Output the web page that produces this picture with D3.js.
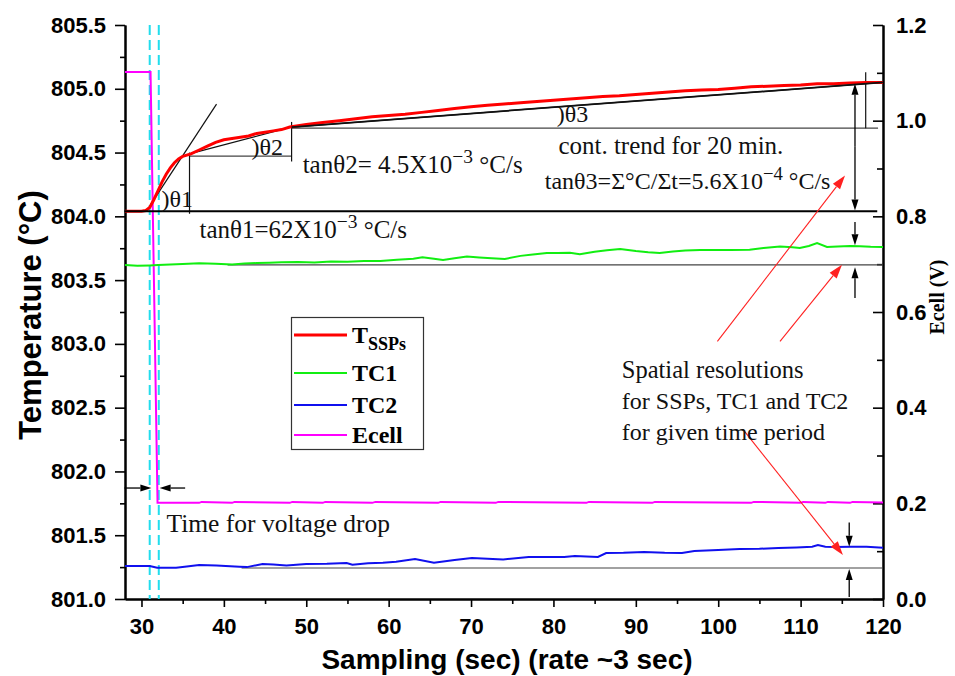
<!DOCTYPE html>
<html><head><meta charset="utf-8">
<script src="https://cdn.jsdelivr.net/npm/d3@7"></script>
<style>body{margin:0;background:#fff} svg{display:block}</style>
</head><body>
<svg id="c" width="955" height="676"></svg>
<script>
// ---------- data ----------
const xTicks = [30, 40, 50, 60, 70, 80, 90, 100, 110, 120];
const leftTicks = [801.0, 801.5, 802.0, 802.5, 803.0, 803.5, 804.0, 804.5, 805.0, 805.5];
const rightTicks = [0.0, 0.2, 0.4, 0.6, 0.8, 1.0, 1.2];

const tssX = [28,29,30,30.5,31,31.5,32,32.5,33,33.5,34,34.5,35,36,37,38,39,40,41,42,43,44,45,46,47,48,50,52,54,56,58,60,62,64,66,68,70,72,74,76,78,80,82,84,86,88,90,92,94,96,98,100,102,104,106,108,110,112,114,116,118,120];
const tssY = [804.04,804.04,804.04,804.045,804.07,804.13,804.2,804.27,804.33,804.38,804.42,804.45,804.47,804.49,804.52,804.55,804.58,804.60,804.61,804.62,804.63,804.65,804.66,804.67,804.68,804.70,804.72,804.735,804.75,804.765,804.78,804.79,804.80,804.815,804.83,804.845,804.86,804.87,804.88,804.89,804.90,804.91,804.92,804.93,804.94,804.945,804.955,804.965,804.975,804.985,804.99,804.995,805.005,805.015,805.02,805.025,805.03,805.04,805.04,805.045,805.05,805.05];

const tc1X = [28,29.5,31,32,33.5,35,37,39,41,42.5,44,45.5,47,49,51,53,55,57,59,61,63,64.1,65.5,66.6,68,69.5,71,72.5,74.1,76,77.5,79.2,80.5,82,83.2,85,86.5,88.1,90,91.5,92.9,94.5,96,97.8,99.5,101.5,103.8,105.5,107.5,109,109.9,111,112,113.2,114.5,116,117.2,118.5,120];
const tc1Y = [803.618,803.612,803.615,803.618,803.622,803.626,803.632,803.628,803.622,803.630,803.634,803.636,803.640,803.642,803.638,803.646,803.644,803.650,803.649,803.660,803.668,803.680,803.668,803.658,803.672,803.686,803.678,803.672,803.666,803.690,803.700,803.712,803.712,803.714,803.702,803.722,803.734,803.744,803.728,803.718,803.712,803.724,803.732,803.736,803.736,803.736,803.738,803.752,803.764,803.758,803.752,803.768,803.790,803.760,803.764,803.768,803.766,803.762,803.760];

const tc2X = [28,31,31.9,34.2,35.5,37,39.1,41.9,42.8,44.7,46,47.6,50,52.5,54.9,55.6,57.5,59.3,60.9,63.2,65.5,68,70.1,72,73.9,77,79,81.3,82.6,85.4,86.4,88.5,91,93.5,95.6,97.1,100,102.6,105,107.3,109.5,111.4,112.1,113,114.2,116,118,120];
const tc2Y = [801.259,801.259,801.245,801.245,801.255,801.266,801.262,801.252,801.250,801.274,801.270,801.262,801.274,801.276,801.282,801.268,801.280,801.284,801.292,801.313,801.285,801.306,801.321,801.316,801.310,801.329,801.330,801.329,801.337,801.330,801.360,801.362,801.368,801.362,801.360,801.376,801.384,801.392,801.394,801.400,801.404,801.410,801.423,801.410,801.408,801.410,801.410,801.402];

const ecellX = [28,31.1,31.95,37,37.3,41,41.3,48,48.3,52,52.3,58,58.4,66,66.3,73,73.3,84,84.3,92,92.3,104,104.3,110,110.3,113,113.3,116,116.3,120];
const ecellY = [1.102,1.102,0.201,0.201,0.203,0.201,0.203,0.201,0.203,0.201,0.203,0.201,0.203,0.201,0.203,0.201,0.203,0.201,0.203,0.201,0.203,0.201,0.203,0.201,0.203,0.201,0.203,0.201,0.203,0.202];

// drop markers (cyan dashed) in sampling units
const dropMarks = [31.0, 32.1];

// annotation geometry (data units: sampling, °C)
const thickRefLine = [[27.94, 804.04, 119.3, 804.04]];
const thinBlackLines = [
  [31.09, 804.09, 39.11, 804.88],   // tangent θ1
  [35.83, 804.50, 35.83, 804.02],   // vertical at θ2 start
  [35.83, 804.49, 48.22, 804.70],   // chord θ2
  [48.22, 804.74, 48.22, 804.43],   // vertical at θ3 start
  [48.22, 804.70, 120.0, 805.05],   // chord θ3
  [117.9, 805.13, 117.9, 804.69]    // vertical at right
];
const greyLines = [
  [35.83, 804.472, 48.22, 804.472],
  [48.22, 804.691, 119.4, 804.691],
  [40.45, 803.62, 120, 803.62],
  [42.15, 801.243, 120, 801.243]
];
const blackArrows = [ // tail x,y -> tip x,y
  [116.6, 804.55, 116.6, 805.04],
  [116.6, 804.55, 116.6, 804.045],
  [116.6, 803.955, 116.6, 803.774],
  [116.6, 803.36, 116.6, 803.60],
  [115.9, 801.60, 115.9, 801.41],
  [115.9, 801.016, 115.9, 801.235],
  [27.94, 801.87, 31.2, 801.87],
  [35.3, 801.87, 32.2, 801.87]
];
const redArrows = [
  [99.9, 803.02, 115.39, 804.32],
  [107.5, 803.02, 115.02, 803.62],
  [103.0, 802.33, 115.14, 801.345]
];

// ---------- scales ----------
const svg = d3.select('#c');
const x = d3.scaleLinear().domain([28, 120]).range([125, 883]);
const yL = d3.scaleLinear().domain([801, 805.5]).range([599, 25]);
const yR = d3.scaleLinear().domain([0, 1.2]).range([599, 25]);

const SANS = "'Liberation Sans', Arial, sans-serif";
const SERIF = "'Liberation Serif', 'Times New Roman', serif";

// ---------- axes ----------
function styleAxis(g) {
  g.select('.domain').attr('stroke', '#000').attr('stroke-width', 2);
  g.selectAll('.tick line').attr('stroke', '#000').attr('stroke-width', 1.6);
  g.selectAll('.tick text').attr('font-family', SANS).attr('font-weight', 'bold')
    .attr('font-size', 22).attr('fill', '#000');
}
const leftMinor = d3.range(801.25, 805.5, 0.5);
const rightMinor = d3.range(0.1, 1.2, 0.2);
const xMinor = d3.range(35, 120, 10);

svg.append('g').attr('transform', 'translate(125,0)')
  .call(d3.axisLeft(yL).tickValues(leftMinor).tickSize(5).tickSizeOuter(0).tickFormat(''))
  .call(styleAxis);
svg.append('g').attr('transform', 'translate(125,0)')
  .call(d3.axisLeft(yL).tickValues(leftTicks).tickSize(10).tickSizeOuter(0).tickPadding(9).tickFormat(d3.format('.1f')))
  .call(styleAxis);

svg.append('g').attr('transform', 'translate(883,0)')
  .call(d3.axisRight(yR).tickValues(rightMinor).tickSize(-6).tickSizeOuter(0).tickFormat(''))
  .call(styleAxis);
svg.append('g').attr('transform', 'translate(883,0)')
  .call(d3.axisRight(yR).tickValues(rightTicks).tickSize(-10).tickSizeOuter(0).tickPadding(13).tickFormat(d3.format('.1f')))
  .call(styleAxis);

svg.append('g').attr('transform', 'translate(0,599)')
  .call(d3.axisBottom(x).tickValues(xMinor).tickSize(5).tickSizeOuter(0).tickFormat(''))
  .call(styleAxis);
svg.append('g').attr('transform', 'translate(0,599)')
  .call(d3.axisBottom(x).tickValues(xTicks).tickSize(8).tickSizeOuter(0).tickPadding(11).tickFormat(d3.format('d')))
  .call(styleAxis);

// axis titles
svg.append('text').attr('x', 507).attr('y', 669).attr('text-anchor', 'middle')
  .attr('font-family', SANS).attr('font-weight', 'bold').attr('font-size', 28)
  .text('Sampling (sec) (rate ~3 sec)');
svg.append('text').attr('transform', 'translate(41,315) rotate(-90)').attr('text-anchor', 'middle')
  .attr('font-family', SANS).attr('font-weight', 'bold').attr('font-size', 31)
  .text('Temperature (°C)');
svg.append('text').attr('transform', 'translate(944,297) rotate(-90)').attr('text-anchor', 'middle')
  .attr('font-family', SERIF).attr('font-weight', 'bold').attr('font-size', 20)
  .text('Ecell (V)');

// ---------- cyan markers ----------
svg.selectAll('.drop').data(dropMarks).join('line')
  .attr('x1', d => x(d)).attr('x2', d => x(d)).attr('y1', 25).attr('y2', 599)
  .attr('stroke', '#22dded').attr('stroke-width', 2).attr('stroke-dasharray', '10,5');

// ---------- annotation lines ----------
function segs(data, stroke, w) {
  svg.append('g').selectAll('line').data(data).join('line')
    .attr('x1', d => x(d[0])).attr('y1', d => yL(d[1]))
    .attr('x2', d => x(d[2])).attr('y2', d => yL(d[3]))
    .attr('stroke', stroke).attr('stroke-width', w);
}
segs(greyLines, '#444', 1.2);
segs(thinBlackLines, '#111', 1.2);

// ---------- series ----------
const lineL = (xs, ys) => d3.line().x((d, i) => x(xs[i])).y(d => yL(d))(ys);
const lineR = (xs, ys) => d3.line().x((d, i) => x(xs[i])).y(d => yR(d))(ys);
svg.append('path').attr('d', lineR(ecellX, ecellY)).attr('fill', 'none').attr('stroke', '#ff00ff').attr('stroke-width', 2);
svg.append('path').attr('d', lineL(tc2X, tc2Y)).attr('fill', 'none').attr('stroke', '#1010ee').attr('stroke-width', 2);
svg.append('path').attr('d', lineL(tc1X, tc1Y)).attr('fill', 'none').attr('stroke', '#11ee11').attr('stroke-width', 2);
svg.append('path').attr('d', lineL(tssX, tssY)).attr('fill', 'none').attr('stroke', '#ff0000').attr('stroke-width', 3);
segs(thickRefLine, '#000', 2);
segs([thinBlackLines[4]], '#111', 1.8);

// ---------- arrows ----------
function arrow(d, color, w, len, half) {
  const x1 = x(d[0]), y1 = yL(d[1]), x2 = x(d[2]), y2 = yL(d[3]);
  const a = Math.atan2(y2 - y1, x2 - x1);
  const bx = x2 - len * Math.cos(a), by = y2 - len * Math.sin(a);
  svg.append('line').attr('x1', x1).attr('y1', y1).attr('x2', bx).attr('y2', by)
    .attr('stroke', color).attr('stroke-width', w);
  const px = -Math.sin(a) * half, py = Math.cos(a) * half;
  svg.append('path').attr('d', `M${x2},${y2}L${bx + px},${by + py}L${bx - px},${by - py}Z`).attr('fill', color);
}
blackArrows.forEach(d => arrow(d, '#000', 1.3, 11, 3.5));
redArrows.forEach(d => arrow(d, '#ff2020', 1.1, 14, 4.5));

// ---------- texts ----------
function txt(dx, dy, parts, size) {
  const t = svg.append('text').attr('x', x(dx)).attr('y', yL(dy))
    .attr('font-family', SERIF).attr('font-size', size || 24).attr('fill', '#111');
  parts.forEach(p => {
    if (typeof p === 'string') t.append('tspan').text(p);
    else t.append('tspan').attr('font-size', (size || 24) * 0.78).attr('baseline-shift', '50%').text(p.sup);
  });
  return t;
}
txt(32.43, 804.072, [')θ1'], 24);
txt(43.36, 804.48, [')θ2'], 24);
txt(80.41, 804.738, [')θ3'], 24);
txt(37.04, 803.83, ['tanθ1=62X10', {sup: '−3'}, ' °C/s'], 25);
txt(49.56, 804.34, ['tanθ2= 4.5X10', {sup: '−3'}, ' °C/s'], 25);
txt(80.6, 804.49, ['cont. trend for 20 min.'], 25);
txt(78.95, 804.215, ['tanθ3=Σ°C/Σt=5.6X10', {sup: '−4'}, ' °C/s'], 24);
txt(33.04, 801.525, ['Time for voltage drop'], 25.5);
txt(88.3, 802.732, ['Spatial resolutions'], 24.5);
txt(88.3, 802.49, ['for SSPs, TC1 and TC2'], 24);
txt(88.3, 802.25, ['for given time period'], 24);

// ---------- legend ----------
const legendItems = ['TSSPs', 'TC1', 'TC2', 'Ecell'];
const legendColors = ['#ff0000', '#11ee11', '#1010ee', '#ff00ff'];
const lg = svg.append('g');
lg.append('rect').attr('x', 291.5).attr('y', 317.5).attr('width', 132).attr('height', 132)
  .attr('fill', '#fff').attr('stroke', '#333').attr('stroke-width', 1.2);
const ly = [335, 373, 405, 435];
legendItems.forEach((name, i) => {
  lg.append('line').attr('x1', 294).attr('x2', 347).attr('y1', ly[i]).attr('y2', ly[i])
    .attr('stroke', legendColors[i]).attr('stroke-width', i === 0 ? 3 : 2);
  const t = lg.append('text').attr('x', 352).attr('y', ly[i] + 8)
    .attr('font-family', SERIF).attr('font-weight', 'bold').attr('font-size', 24).attr('fill', '#000');
  if (i === 0) {
    t.append('tspan').text('T');
    t.append('tspan').attr('font-size', 18).attr('dy', 7).text('SSPs');
  } else t.text(name);
});
</script>
</body></html>
